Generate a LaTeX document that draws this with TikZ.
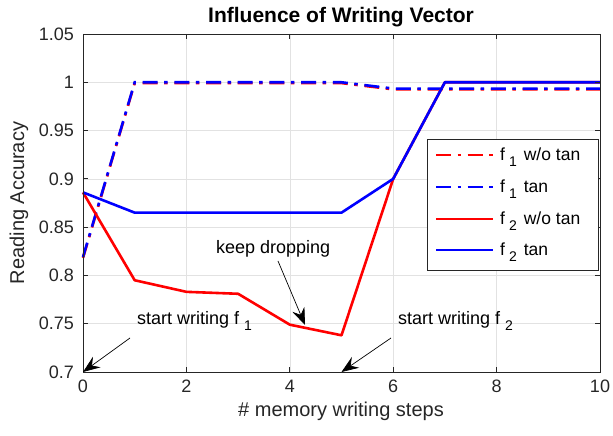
\documentclass[tikz,border=0pt]{standalone}
\usepackage{fontspec}
\setmainfont{Liberation Sans}
\usetikzlibrary{arrows.meta}
\definecolor{axc}{HTML}{262626}
\definecolor{gridc}{HTML}{E2E2E2}
\definecolor{mred}{HTML}{FF0000}
\definecolor{mblue}{HTML}{0000FF}
\newcommand{\subsc}[2]{\hspace{#2}\raisebox{-6pt}{\fontsize{14}{14}\selectfont #1}}
\tikzset{
  ticklab/.style={font=\fontsize{18}{18}\selectfont, text=axc, inner sep=0pt},
  axlab/.style={font=\fontsize{20}{20}\selectfont, text=axc, inner sep=0pt},
  annot/.style={font=\fontsize{18}{18}\selectfont, text=black, inner sep=0pt, anchor=base west},
  legtext/.style={font=\fontsize{17.5}{17.5}\selectfont, text=black, inner sep=0pt, anchor=base west},
  gridline/.style={gridc, line width=0.6pt},
  dashdotline/.style={line width=2.6pt, dash pattern=on 15pt off 6.5pt on 3.5pt off 6.7pt},
  solidline/.style={line width=2.6pt, line join=round},
  annarrow/.style={black, line width=0.7pt, -{Stealth[length=17pt, width=13pt, inset=6pt]}},
  tickmark/.style={axc, line width=0.8pt}
}
\begin{document}
\begin{tikzpicture}[x=1pt, y=1pt]
\useasboundingbox (0,0) rectangle (613,436);
\begin{scope}[shift={(83,64)}, x=51.7pt, y=9.657pt]
  % grid
  \foreach \i in {2,4,6,8} \draw[gridline] (\i,0) -- (\i,35);
  \foreach \j in {5,10,15,20,25,30} \draw[gridline] (0,\j) -- (10,\j);
  % data f1
  \draw[dashdotline, mred, yshift=-0.8pt] (0,11.9) -- (1,30) -- (5,30) -- (6,29.35) -- (10,29.35);
  \draw[dashdotline, mblue] (0,11.9) -- (1,30) -- (5,30) -- (6,29.35) -- (10,29.35);
  % data f2
  \draw[solidline, mred] (0,18.6) -- (1,9.5) -- (2,8.3) -- (3,8.1) -- (4,4.9) -- (5,3.8) -- (6,20) -- (7,30) -- (10,30);
  \draw[solidline, mblue] (0,18.6) -- (1,16.5) -- (5,16.5) -- (6,20) -- (7,30) -- (10,30);
  % frame and ticks
  \draw[tickmark] (0,0) rectangle (10,35);
  \foreach \i in {0,2,4,6,8,10} {
    \draw[tickmark] (\i,0) -- ++(0,5pt);
    \draw[tickmark] (\i,35) -- ++(0,-5pt);
    \node[ticklab, anchor=north] (xt\i) at ([yshift=-8pt]\i,0) {\i};
  }
  \foreach \j/\lab in {0/0.7,5/0.75,10/0.8,15/0.85,20/0.9,25/0.95,30/1,35/1.05} {
    \draw[tickmark] (0,\j) -- ++(5pt,0);
    \draw[tickmark] (10,\j) -- ++(-5pt,0);
    \node[ticklab, anchor=east] (yt\j) at ([xshift=-9pt]0,\j) {\lab};
  }
  % annotation targets
  \coordinate (tipA) at (0,0);
  \coordinate (tipB) at (5,0);
\end{scope}
% annotations
\coordinate (tailA) at (130,98);
\coordinate (tailB) at (391,98);
\coordinate (tailC) at (278,175);
\coordinate (tipC) at (305,111);
\draw[annarrow] (tailA) -- (tipA);
\draw[annarrow] (tailB) -- (tipB);
\draw[annarrow] (tailC) -- (tipC);
\node[annot] (txtA) at (137,111) {start writing f\subsc{1}{5pt}};
\node[annot] (txtB) at (398,111) {start writing f\subsc{2}{5pt}};
\node[annot] (txtC) at (216,182) {keep dropping};
% legend
\node[draw=axc, fill=white, line width=0.6pt, minimum width=171pt, minimum height=131pt, inner sep=0pt] (legend) at (512.5,231.5) {};
\draw[dashdotline, mred] (436,281) -- (493,281);
\draw[dashdotline, mblue] (436,249) -- (493,249);
\draw[solidline, mred] (436,217) -- (493,217);
\draw[solidline, mblue] (436,186) -- (493,186);
\node[legtext] (l1) at (500,275) {f\subsc{1}{4pt}\hspace{7pt}w/o tan};
\node[legtext] (l2) at (500,243) {f\subsc{1}{4pt}\hspace{7pt}tan};
\node[legtext] (l3) at (500,211) {f\subsc{2}{4pt}\hspace{7pt}w/o tan};
\node[legtext] (l4) at (500,180) {f\subsc{2}{4pt}\hspace{7pt}tan};
% labels
\node[font=\fontsize{21}{21}\selectfont\bfseries, inner sep=0pt] (title) at (341,419) {Influence of Writing Vector};
\node[axlab] (xlabel) at (341,25) {\# memory writing steps};
\node[axlab, rotate=90] (ylabel) at (19,233) {Reading Accuracy};
\end{tikzpicture}
\end{document}
